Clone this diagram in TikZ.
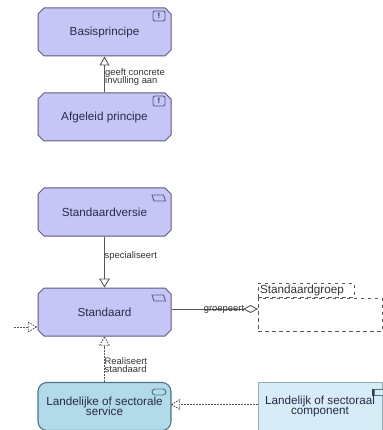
\documentclass[tikz,border=0pt]{standalone}
\usepackage{fontspec}
\setmainfont{Liberation Sans}
\usetikzlibrary{arrows.meta,shapes.misc,shapes.geometric}
\normallineskiplimit=-20pt
\lineskiplimit=-20pt
\definecolor{stdfill}{HTML}{C6C6F6}
\definecolor{stdline}{HTML}{5A5A80}
\definecolor{svcfill}{HTML}{B2DAE8}
\definecolor{svcline}{HTML}{4F7484}
\definecolor{cmpfill}{HTML}{D6ECF6}
\definecolor{txt}{HTML}{2A2A4A}
\definecolor{con}{HTML}{555555}
\tikzset{
  x=1pt,y=-1pt,
  elem/.style={draw=stdline,line width=1pt,fill=stdfill,minimum width=133pt,minimum height=48pt,inner sep=1pt,align=center,text=txt,font=\fontsize{11.7}{10.4}\selectfont},
  motive/.style={elem,chamfered rectangle,chamfered rectangle xsep=3pt,chamfered rectangle ysep=3pt,chamfered rectangle corners={north west,north east,south west,south east}},
  svc/.style={elem,rounded corners=9pt,draw=svcline,fill=svcfill,line width=1.1pt,text=txt},
  cmp/.style={elem,draw=svcline!60,fill=cmpfill,line width=.6pt,minimum width=124pt},
  conn/.style={draw=con,line width=.9pt},
  real/.style={draw=con,line width=1pt,dash pattern=on 1.5pt off 1.5pt},
  lbl/.style={font=\fontsize{9.4}{8.4}\selectfont,text=black!80,align=left,inner sep=0pt},
  reahead/.style={regular polygon,regular polygon sides=3,draw=con,line width=.9pt,dash pattern=on 1.5pt off 1.2pt,minimum size=11pt,inner sep=0pt},
  dashbox/.style={draw=black!65,line width=.9pt,dash pattern=on 3.5pt off 3.5pt,inner sep=0pt},
  ico/.style={draw=stdline,line width=.9pt,inner sep=0pt},
}
\begin{document}
\begin{tikzpicture}
\useasboundingbox (0,0) rectangle (382,430);
% elements
\node[motive] (basis) at (104.5,32) {Basisprincipe};
\node[motive] (afg) at (104.5,117) {Afgeleid principe};
\node[motive] (versie) at (104.5,212) {Standaardversie};
\node[motive] (std) at (104.5,312) {Standaard};
\node[svc] (svc) at (104.5,406.5) {Landelijke of sectorale\\service};
\node[cmp] (cmp) at (320,406.5) {Landelijk of sectoraal\\component};
% group
\node[dashbox,minimum width=124pt,minimum height=33pt] (grpbody) at (320,314.5) {};
\node[dashbox,minimum width=96pt,minimum height=14pt,anchor=south west,font=\fontsize{11.7}{11}\selectfont,text=black!80,align=left,text width=92pt,inner xsep=2pt] (grptab) at (grpbody.north west) {Standaardgroep};
\coordinate (grpin) at (258,309);
% connectors
\draw[conn,-{Triangle[open,length=9pt,width=10pt]}] (afg.north) -- (basis.south);
\node[lbl,anchor=west] (l1) at (105,77) {geeft concrete\\invulling aan};
\draw[conn,-{Triangle[open,length=9pt,width=11pt]}] (versie.south) -- (std.north);
\node[lbl,anchor=west] (l2) at (104.5,256.5) {specialiseert};
\draw[conn,-{Diamond[open,length=15pt,width=8pt]}] (grpin -| std.east) -- (grpin);
\node[lbl,anchor=center] (l3) at (224,309) {groepeert};
% realisation
\node[reahead,shape border rotate=0] (h1) at (104.5,342.5) {};
\draw[real] (svc.north) -- (h1.south);
\node[lbl,anchor=west] (l4) at (104.5,365) {Realiseert\\standaard};
\node[reahead,shape border rotate=90] (h2) at (177,404.5) {};
\draw[real] (cmp.west |- h2) -- (h2);
\node[reahead,shape border rotate=-90] (h3) at (31,327) {};
\coordinate (free) at (14,327);
\draw[real] (free) -- (h3);
% icons
\foreach \n/\y in {a/16,b/101}{
  \node[ico,rounded corners=2pt,minimum width=12pt,minimum height=10pt,font=\bfseries\fontsize{8}{8}\selectfont,text=txt] (ex\n) at (159,\y) {!};
}
\foreach \y in {198,298}{
  \draw[stdline,line width=.9pt] (154,\y+3) -- (165.5,\y+3) -- (163.5,\y-3) -- (152,\y-3) -- cycle;
}
\draw[ico,draw=svcline,rounded corners=3pt] (152,389) rectangle (166,395);
\fill[black!75] (372,389) rectangle (376,396);
\draw[svcline,fill=cmpfill,line width=.8pt] (374.5,389) rectangle (390,395);
\end{tikzpicture}
\end{document}
